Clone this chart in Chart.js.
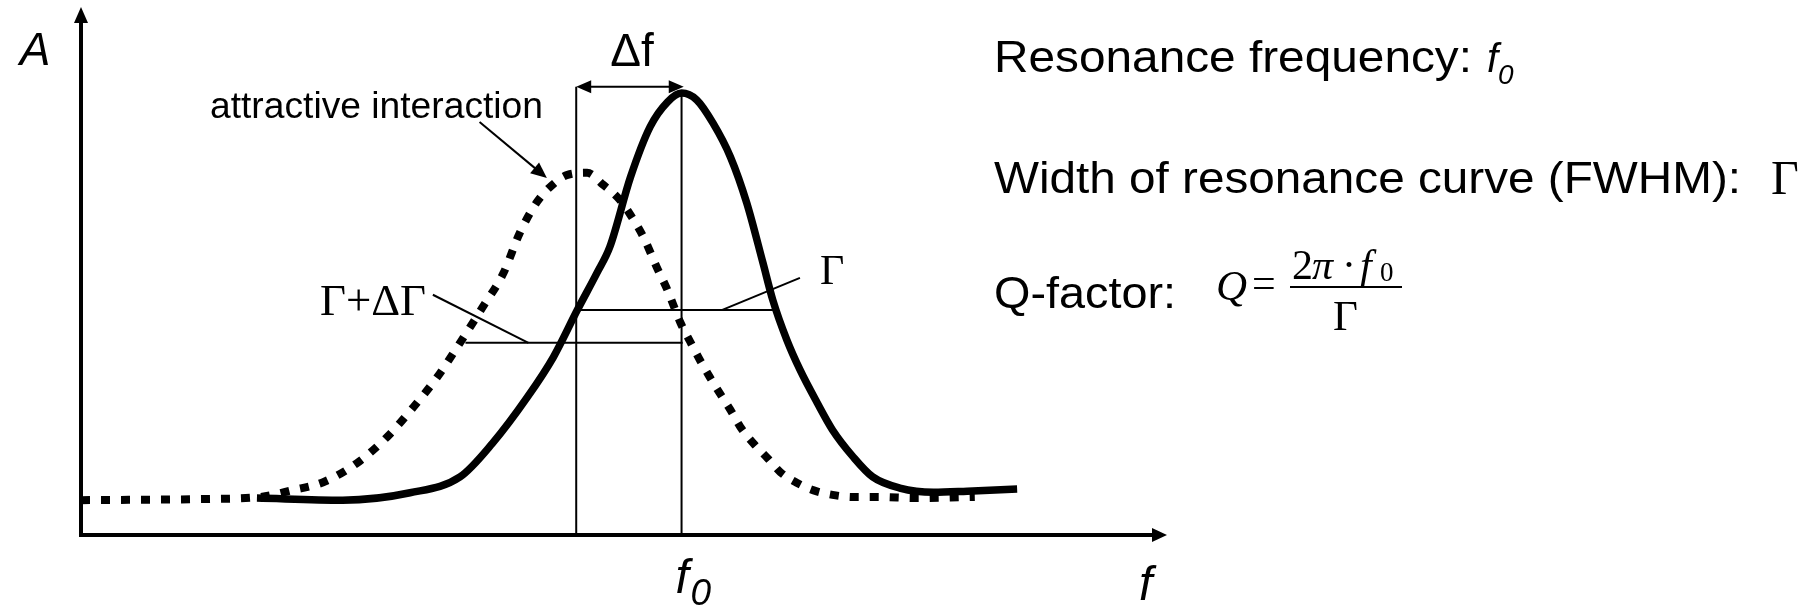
<!DOCTYPE html>
<html>
<head>
<meta charset="utf-8">
<script src="https://cdn.jsdelivr.net/npm/chart.js@4.4.1/dist/chart.umd.min.js"></script>
<style>
  html, body { margin: 0; padding: 0; background: #fff; }
  #wrap { width: 1818px; height: 607px; position: relative; }
</style>
</head>
<body>
<div id="wrap"><canvas id="c"></canvas></div>
<script>
// Free resonance curve (solid line): frequency / amplitude samples
const freeFreq = [16.2, 24.1, 30.3, 34.9, 37.9, 41.1, 43.5, 45.7, 47.5, 48.7, 50.6, 52.4, 54.0, 55.3,
                  56.7, 58.2, 59.8, 61.3, 62.8, 63.7, 65.0, 66.2, 67.8, 69.2, 71.1, 72.9, 75.4, 78.5, 81.6, 86.2];
const freeAmp  = [7.0, 6.6, 8.0, 11.0, 17.4, 26.1, 33.7, 42.6, 49.6, 54.6, 67.8, 77.3, 82.0, 83.7,
                  82.4, 78.0, 71.6, 62.9, 51.5, 44.5, 36.9, 31.3, 25.0, 19.9, 14.8, 11.0, 8.9, 8.1, 8.3, 8.7];

// Curve with attractive interaction (dotted line), shifted to lower frequency
const shiftedFreq = [0.0, 11.0, 16.5, 19.5, 22.3, 25.4, 28.2, 30.6, 32.8, 34.9, 37.0, 38.9, 40.4, 42.0,
                     43.4, 44.8, 46.6, 48.1, 49.6, 50.6, 51.8, 53.0, 54.0, 55.2, 56.1, 57.0, 57.9, 58.8,
                     59.8, 60.7, 61.9, 63.2, 64.4, 65.9, 67.4, 69.2, 71.1, 73.3, 77.0, 82.3];
const shiftedAmp  = [6.6, 6.8, 7.2, 8.5, 10.0, 13.6, 18.6, 24.2, 29.9, 36.4, 43.2, 49.6, 57.2, 63.1,
                     66.3, 68.2, 68.6, 66.3, 63.5, 60.6, 56.4, 50.8, 46.4, 40.2, 36.6, 33.1, 29.9, 26.9,
                     23.7, 20.5, 17.4, 14.6, 11.9, 9.9, 8.5, 7.6, 7.2, 7.2, 7.0, 7.2];

// Characteristic values marked on the plot
const f0 = 55.3;            // resonance frequency of the free curve
const f0Peak = 83.7;        // amplitude at f0
const fInteract = 45.6;     // resonance frequency with interaction
const bracketLevel = 84.9;  // height of the Δf bracket
const gammaLevel = 42.6, gammaFrom = 45.7, gammaTo = 63.9;                // FWHM of free curve
const gammaShiftLevel = 36.4, gammaShiftFrom = 35.4, gammaShiftTo = 55.4; // FWHM with interaction

const toPoints = (xs, ys) => xs.map((x, i) => ({ x, y: ys[i] }));

function drawText(ctx, s, x, y, font, opts = {}) {
  ctx.save();
  ctx.font = font;
  ctx.textBaseline = 'alphabetic';
  ctx.fillStyle = '#000';
  const w = ctx.measureText(s).width;
  const sx = opts.width ? opts.width / w : 1;
  let left = x;
  if (opts.align === 'center') left = x - (w * sx) / 2;
  ctx.translate(left, y);
  ctx.scale(sx, 1);
  ctx.fillText(s, 0, 0);
  ctx.restore();
}

function line(ctx, x1, y1, x2, y2, w) {
  ctx.save();
  ctx.strokeStyle = '#000';
  ctx.lineWidth = w;
  ctx.beginPath();
  ctx.moveTo(x1, y1);
  ctx.lineTo(x2, y2);
  ctx.stroke();
  ctx.restore();
}

function head(ctx, tx, ty, fromX, fromY, len, half) {
  const a = Math.atan2(ty - fromY, tx - fromX);
  ctx.save();
  ctx.fillStyle = '#000';
  ctx.translate(tx, ty);
  ctx.rotate(a);
  ctx.beginPath();
  ctx.moveTo(0, 0);
  ctx.lineTo(-len, -half);
  ctx.lineTo(-len, half);
  ctx.closePath();
  ctx.fill();
  ctx.restore();
}

function arrow(ctx, x1, y1, x2, y2, w, len, half) {
  const a = Math.atan2(y2 - y1, x2 - x1);
  line(ctx, x1, y1, x2 - Math.cos(a) * len * 0.8, y2 - Math.sin(a) * len * 0.8, w);
  head(ctx, x2, y2, x1, y1, len, half);
}

const markers = {
  id: 'markers',
  beforeDatasetsDraw(chart) {
    const { ctx, scales: { x, y } } = chart;
    const px = v => x.getPixelForValue(v), py = v => y.getPixelForValue(v);
    const base = py(0);
    // vertical guides at both resonance frequencies
    line(ctx, px(fInteract), base, px(fInteract), py(bracketLevel), 2);
    line(ctx, px(f0), base, px(f0), py(f0Peak), 2);
    // FWHM levels
    line(ctx, px(gammaFrom), py(gammaLevel), px(gammaTo), py(gammaLevel), 2);
    line(ctx, px(gammaShiftFrom), py(gammaShiftLevel), px(gammaShiftTo), py(gammaShiftLevel), 2);
  },
  afterDatasetsDraw(chart) {
    const { ctx, chartArea: ca, scales: { x, y } } = chart;
    const px = v => x.getPixelForValue(v), py = v => y.getPixelForValue(v);

    // axes with arrow heads
    ctx.save();
    ctx.lineCap = 'square';
    line(ctx, ca.left, ca.bottom, ca.left, ca.top + 12, 4);
    line(ctx, ca.left, ca.bottom, ca.right - 12, ca.bottom, 4);
    ctx.restore();
    head(ctx, ca.left, ca.top, ca.left, ca.bottom, 16, 7);
    head(ctx, ca.right, ca.bottom, ca.left, ca.bottom, 15, 7);

    // Δf bracket
    const by = py(bracketLevel);
    line(ctx, px(fInteract) + 10, by, px(f0 + 0.2) - 10, by, 2);
    head(ctx, px(fInteract), by, px(f0), by, 15, 6.5);
    head(ctx, px(f0 + 0.2), by, px(fInteract), by, 15, 6.5);

    // leader lines
    line(ctx, px(59.0), py(gammaLevel), px(66.2), py(48.7), 2);
    line(ctx, px(32.4), py(45.5), px(41.2), py(gammaShiftLevel), 2);
    arrow(ctx, px(36.7), py(78.2), px(42.9), py(67.6), 2, 16, 7);

    // labels on the plot
    const sans = '"Liberation Sans", Arial, sans-serif';
    const serif = '"Liberation Serif", "Times New Roman", serif';
    drawText(ctx, 'A', 35, 65, 'italic 46px ' + sans, { align: 'center' });
    drawText(ctx, '\u0394f', 632, 66, '46px ' + sans, { align: 'center' });
    drawText(ctx, 'attractive interaction', 210, 118, '36px ' + sans, { width: 333 });
    drawText(ctx, '\u0393+\u0394\u0393', 320, 315, '45px ' + serif, { width: 106 });
    drawText(ctx, '\u0393', 820, 284, '42px ' + serif);
    drawText(ctx, 'f', px(f0) - 6, 593, 'italic 48px ' + sans);
    drawText(ctx, '0', px(f0) + 9, 605, 'italic 37px ' + sans);
    drawText(ctx, 'f', 1139, 600, 'italic 48px ' + sans);

    // definitions on the right
    drawText(ctx, 'Resonance frequency:', 994, 72, '45px ' + sans, { width: 478 });
    drawText(ctx, 'f', 1487, 72, 'italic 40px ' + sans);
    drawText(ctx, '0', 1498, 84, 'italic 28px ' + sans);
    drawText(ctx, 'Width of resonance curve (FWHM):', 994, 193, '45px ' + sans, { width: 747 });
    drawText(ctx, '\u0393', 1771, 194, '48px ' + serif);
    drawText(ctx, 'Q-factor:', 994, 308, '45px ' + sans, { width: 182 });
    drawText(ctx, 'Q', 1216, 300, 'italic 43px ' + serif);
    drawText(ctx, '=', 1252, 297, '42px ' + serif);
    line(ctx, 1290, 287, 1402, 287, 2);
    drawText(ctx, '2', 1292, 279, '42px ' + serif);
    drawText(ctx, '\u03c0', 1312, 279, 'italic 42px ' + serif);
    drawText(ctx, '\u00b7', 1342, 279, '42px ' + serif);
    drawText(ctx, 'f', 1360, 279, 'italic 42px ' + serif);
    drawText(ctx, '0', 1380, 281, '27px ' + serif);
    drawText(ctx, '\u0393', 1333, 330, '43px ' + serif);
  }
};

new Chart(document.getElementById('c'), {
  type: 'line',
  data: {
    datasets: [
      {
        label: 'free',
        data: toPoints(freeFreq, freeAmp),
        borderColor: '#000',
        borderWidth: 7.5,
        pointRadius: 0,
        cubicInterpolationMode: 'monotone',
        fill: false,
        order: 1
      },
      {
        label: 'attractive interaction',
        data: toPoints(shiftedFreq, shiftedAmp),
        borderColor: '#000',
        borderWidth: 8,
        borderDash: [9, 11],
        borderCapStyle: 'butt',
        pointRadius: 0,
        cubicInterpolationMode: 'monotone',
        fill: false,
        order: 0
      }
    ]
  },
  options: {
    responsive: true,
    maintainAspectRatio: false,
    devicePixelRatio: 1,
    animation: false,
    layout: { padding: { left: 81, top: 7, right: 651, bottom: 72 } },
    plugins: { legend: { display: false }, tooltip: { enabled: false } },
    scales: {
      x: { type: 'linear', min: 0, max: 100, display: false },
      y: { type: 'linear', min: 0, max: 100, display: false }
    },
    elements: { line: { clip: false } }
  },
  plugins: [markers]
});
</script>
</body>
</html>
